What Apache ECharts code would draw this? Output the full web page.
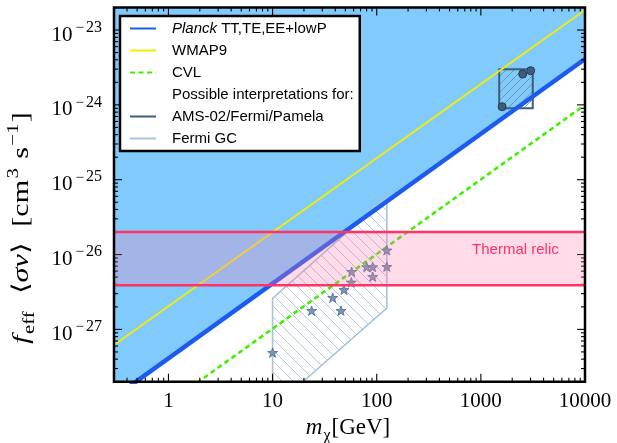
<!DOCTYPE html>
<html><head><meta charset="utf-8">
<script src="https://cdn.jsdelivr.net/npm/echarts@6/dist/echarts.min.js"></script>
<style>html,body{margin:0;padding:0;background:#fff}#c{width:617px;height:443px}</style>
</head><body><div id="c"></div>
<script>
// ---- data ----
const xRange = [0.3, 10000];
const yRange = [2e-28, 2e-23];
const xTickLabels = [1, 10, 100, 1000, 10000];
const yTickExponents = [-27, -26, -25, -24, -23];
const planckLine = [[0.3, 1.23e-28], [10000, 4.1e-24]];
const wmap9Line = [[0.3, 6.2e-28], [10000, 1.85e-23]];
const cvlLine = [[0.3, 3.1e-29], [10000, 1.0e-24]];
const thermalBand = [3.9e-27, 2.0e-26];
const thermalLabel = 'Thermal relic';
const thermalLabelAt = [5600, 1.15e-26];
const fermiGCRegion = [[10, 2.6e-27], [125, 5.9e-26], [125, 1.93e-27], [10, 8.8e-29]];
const fermiGCPoints = [[10, 4.9e-28], [23.7, 1.78e-27], [37.8, 2.65e-27], [45.4, 1.78e-27], [48.5, 3.39e-27],
  [57, 4.26e-27], [57.5, 5.9e-27], [80, 6.82e-27], [91.5, 6.82e-27], [91.5, 5.06e-27], [125, 1.14e-26], [125, 6.88e-27]];
const amsBox = [[1500, 9.0e-25], [3150, 3.0e-24]];
const amsPoints = [[1600, 9.45e-25], [2520, 2.58e-24], [3010, 2.86e-24]];
const legendNames = ['Planck TT,TE,EE+lowP', 'WMAP9', 'CVL', 'Possible interpretations for:', 'AMS-02/Fermi/Pamela', 'Fermi GC'];

// ---- styles ----
const C = {
  fill: '#80cbfb', planck: '#1d5bf0', wmap: '#f7ec00', cvl: '#3ff000',
  ams: '#3d5d7a', fermi: '#a9c4d6', band: 'rgba(255,122,174,0.27)', bandEdge: '#ff3366'
};

function hatch(color, dir, s, lw) {
  const c = document.createElement('canvas'); c.width = c.height = s;
  const g = c.getContext('2d'); g.strokeStyle = color; g.lineWidth = lw; g.beginPath();
  for (let k = -1; k <= 1; k++) {
    if (dir === '\\') { g.moveTo(k * s, 0); g.lineTo(k * s + s, s); }
    else { g.moveTo(k * s, s); g.lineTo(k * s + s, 0); }
  }
  g.stroke();
  return { image: c, repeat: 'repeat' };
}
function starPath() {
  let d = '';
  for (let i = 0; i < 10; i++) {
    const r = i % 2 ? 0.4 : 1, a = -Math.PI / 2 + i * Math.PI / 5;
    d += (i ? 'L' : 'M') + (50 + 50 * r * Math.cos(a)).toFixed(2) + ',' + (50 + 50 * r * Math.sin(a)).toFixed(2);
  }
  return 'path://' + d + 'Z';
}
function logTicks(lo, hi) {
  const out = [];
  for (let e = Math.floor(Math.log10(lo)); e <= Math.ceil(Math.log10(hi)); e++)
    for (let k = 1; k <= 9; k++) {
      const v = k * Math.pow(10, e);
      if (v >= lo * 0.999 && v <= hi * 1.001) out.push({ v, major: k === 1 });
    }
  return out;
}
function gridClip(cs) { return { type: 'rect', shape: { x: cs.x, y: cs.y, width: cs.width, height: cs.height } }; }
const serif = 'Liberation Serif';
const sans = 'Liberation Sans';
const titleRich = {
  it: { fontFamily: serif, fontStyle: 'italic', fontSize: 23, color: '#000', verticalAlign: 'bottom', padding: [0, 0, 5, 0] },
  n: { fontFamily: serif, fontSize: 23, color: '#000', verticalAlign: 'bottom', padding: [0, 0, 5, 0] },
  n2: { fontFamily: serif, fontSize: 23, color: '#000', verticalAlign: 'bottom', padding: [0, 0, 5, 12] },
  n3: { fontFamily: serif, fontSize: 23, color: '#000', verticalAlign: 'bottom', padding: [0, 0, 5, 6] },
  sub: { fontFamily: serif, fontSize: 16, color: '#000', verticalAlign: 'bottom', padding: [0, 1, 0, 1] },
  sup: { fontFamily: serif, fontSize: 16, color: '#000', verticalAlign: 'bottom', padding: [0, 1, 16, 1] }
};

const chart = echarts.init(document.getElementById('c'), null, { renderer: 'canvas' });
const option = {
  animation: false,
  backgroundColor: '#fff',
  grid: { left: 114, right: 32, top: 7.5, bottom: 61.3, outerBoundsMode: 'none' },
  xAxis: {
    type: 'log', min: xRange[0], max: xRange[1],
    axisLine: { show: false }, axisTick: { show: false }, splitLine: { show: false },
    axisLabel: {
      margin: 9, color: '#000', fontFamily: serif, fontSize: 21,
      formatter: v => xTickLabels.includes(Math.round(v)) && Math.abs(v - Math.round(v)) < 1e-6 ? String(Math.round(v)) : ''
    }
  },
  yAxis: {
    type: 'log', min: yRange[0], max: yRange[1],
    axisLine: { show: false }, axisTick: { show: false }, splitLine: { show: false },
    axisLabel: {
      margin: 12,
      formatter: v => {
        const e = Math.log10(v), r = Math.round(e);
        return (Math.abs(e - r) < 1e-6 && yTickExponents.includes(r)) ? '{b|10}{m|\u2212}{s|' + Math.abs(r) + '}' : '';
      },
      rich: {
        b: { fontFamily: serif, fontSize: 21, color: '#000', verticalAlign: 'bottom', padding: [10, 1, 0, 0] },
        m: { fontFamily: serif, fontSize: 15, color: '#000', verticalAlign: 'bottom', padding: [0, 2, 10, 2] },
        s: { fontFamily: serif, fontSize: 16, color: '#000', verticalAlign: 'bottom', padding: [0, 0, 10, 0] }
      }
    }
  },
  legend: {
    left: 120, top: 16, orient: 'vertical', z: 20,
    data: legendNames, selectedMode: false,
    itemWidth: 26, itemHeight: 14, itemGap: 7,
    padding: [5, 6, 5, 9],
    itemStyle: { color: 'rgba(0,0,0,0)', borderWidth: 0, opacity: 0 },
    backgroundColor: '#fff', borderColor: '#000', borderWidth: 2.5, borderRadius: 0,
    formatter: name => name.replace('Planck', '{i|Planck}'),
    textStyle: {
      fontFamily: sans, fontSize: 15, color: '#000', padding: [0, 0, 0, 11],
      rich: { i: { fontFamily: sans, fontSize: 15, fontStyle: 'italic', color: '#000' } }
    }
  },
  graphic: [
    {
      type: 'text', x: 348, y: 430, z: 20,
      style: { text: '{it|m}{sub|\u03c7}{n|[GeV]}', align: 'center', verticalAlign: 'middle', rich: titleRich }
    },
    {
      type: 'text', x: 22, y: 228, rotation: Math.PI / 2, scaleX: 1.31, z: 20,
      style: {
        text: '{it|f}{sub|eff}{n2|\u27e8}{it|\u03c3v}{n|\u27e9}{n2|[cm}{sup|3}{n3|s}{sup|\u22121}{n|]}',
        align: 'center', verticalAlign: 'middle', rich: titleRich
      }
    }
  ],
  series: [
    { name: '_fill', type: 'custom', z: 1, silent: true, data: [planckLine[0]],
      renderItem: (params, api) => {
        const pts = [api.coord(planckLine[0]), api.coord(planckLine[1]),
          api.coord([xRange[1], yRange[1]]), api.coord([xRange[0], yRange[1]])];
        return { type: 'group', clipPath: gridClip(params.coordSys),
          children: [{ type: 'polygon', shape: { points: pts }, style: { fill: C.fill } }] };
      } },
    { name: '_fermiRegion', type: 'custom', z: 2, silent: true,
      data: [fermiGCRegion[0]],
      renderItem: (params, api) => {
        const pts = fermiGCRegion.map(p => api.coord(p));
        return { type: 'group', clipPath: gridClip(params.coordSys),
          children: [{ type: 'polygon', shape: { points: pts }, style: { fill: hatch(C.fermi, '\\', 11, 0.9), stroke: C.fermi, lineWidth: 1.6 } }] };
      } },
    { name: '_amsBox', type: 'custom', z: 2, silent: true,
      data: [[amsBox[0][0], amsBox[0][1], amsBox[1][0], amsBox[1][1]]],
      renderItem: (params, api) => {
        const a = api.coord([api.value(0), api.value(1)]), b = api.coord([api.value(2), api.value(3)]);
        return { type: 'rect', shape: { x: Math.min(a[0], b[0]), y: Math.min(a[1], b[1]), width: Math.abs(b[0] - a[0]), height: Math.abs(b[1] - a[1]) },
          style: { fill: hatch('#5f7f9c', '/', 8, 0.7), stroke: C.ams, lineWidth: 2 } };
      } },
    { name: 'WMAP9', type: 'line', data: wmap9Line, symbol: 'none', z: 3, lineStyle: { color: C.wmap, width: 1.8 }, itemStyle: { color: C.wmap } },
    { name: 'CVL', type: 'line', data: cvlLine, symbol: 'none', z: 3, lineStyle: { color: C.cvl, width: 2.6, type: [5, 3.5] }, itemStyle: { color: C.cvl } },
    { name: 'Planck TT,TE,EE+lowP', type: 'line', data: planckLine, symbol: 'none', z: 3, lineStyle: { color: C.planck, width: 4.5 }, itemStyle: { color: C.planck } },
    { name: '_fermiPts', type: 'scatter', data: fermiGCPoints, z: 4, symbol: starPath(), symbolSize: 10, symbolKeepAspect: true,
      itemStyle: { color: '#7896b6', borderColor: '#4d6b8b', borderWidth: 0.8, opacity: 1 } },
    { name: '_amsPts', type: 'scatter', data: amsPoints, z: 4, symbol: 'circle', symbolSize: 8,
      itemStyle: { color: C.ams, borderColor: '#243c52', borderWidth: 1, opacity: 1 } },
    { name: '_ticks', type: 'custom', z: 5, silent: true, data: [[1, 1e-26]],
      renderItem: (params, api) => {
        const cs = params.coordSys, L = cs.x, R = cs.x + cs.width, T = cs.y, B = cs.y + cs.height;
        const ch = [];
        const st = { stroke: '#000', lineWidth: 1.1 };
        logTicks(xRange[0], xRange[1]).forEach(t => {
          const x = api.coord([t.v, yRange[0]])[0], len = t.major ? 8 : 4;
          ch.push({ type: 'line', shape: { x1: x, y1: B, x2: x, y2: B - len }, style: st });
          ch.push({ type: 'line', shape: { x1: x, y1: T, x2: x, y2: T + len }, style: st });
        });
        logTicks(yRange[0], yRange[1]).forEach(t => {
          const y = api.coord([xRange[0], t.v])[1], len = t.major ? 8 : 4;
          ch.push({ type: 'line', shape: { x1: L, y1: y, x2: L + len, y2: y }, style: st });
          ch.push({ type: 'line', shape: { x1: R, y1: y, x2: R - len, y2: y }, style: st });
        });
        return { type: 'group', children: ch };
      } },
    { name: '_band', type: 'custom', z: 6, silent: true,
      data: [[xRange[0], thermalBand[0], xRange[1], thermalBand[1]]],
      renderItem: (params, api) => {
        const a = api.coord([api.value(0), api.value(1)]), b = api.coord([api.value(2), api.value(3)]);
        const lp = api.coord(thermalLabelAt);
        return { type: 'group', children: [
          { type: 'rect', shape: { x: a[0], y: b[1], width: b[0] - a[0], height: a[1] - b[1] }, style: { fill: C.band } },
          { type: 'line', shape: { x1: a[0], y1: a[1], x2: b[0], y2: a[1] }, style: { stroke: C.bandEdge, lineWidth: 2.5 } },
          { type: 'line', shape: { x1: a[0], y1: b[1], x2: b[0], y2: b[1] }, style: { stroke: C.bandEdge, lineWidth: 2.5 } },
          { type: 'text', x: lp[0], y: lp[1], style: { text: thermalLabel, fill: C.bandEdge, fontFamily: sans, fontSize: 15, align: 'right', verticalAlign: 'middle' } }
        ] };
      } },
    { name: '_frame', type: 'custom', z: 8, silent: true, data: [[1, 1e-26]],
      renderItem: (params) => {
        const cs = params.coordSys;
        return { type: 'rect', shape: { x: cs.x, y: cs.y, width: cs.width, height: cs.height }, style: { fill: 'none', stroke: '#000', lineWidth: 2.5 } };
      } },
    { name: 'Possible interpretations for:', type: 'line', data: [], symbol: 'none', lineStyle: { color: 'rgba(0,0,0,0)', width: 0, opacity: 0 }, itemStyle: { color: 'rgba(0,0,0,0)' } },
    { name: 'AMS-02/Fermi/Pamela', type: 'line', data: [], symbol: 'none', lineStyle: { color: C.ams, width: 2 }, itemStyle: { color: C.ams } },
    { name: 'Fermi GC', type: 'line', data: [], symbol: 'none', lineStyle: { color: C.fermi, width: 3 }, itemStyle: { color: C.fermi } }
  ]
};
chart.setOption(option);
</script></body></html>
